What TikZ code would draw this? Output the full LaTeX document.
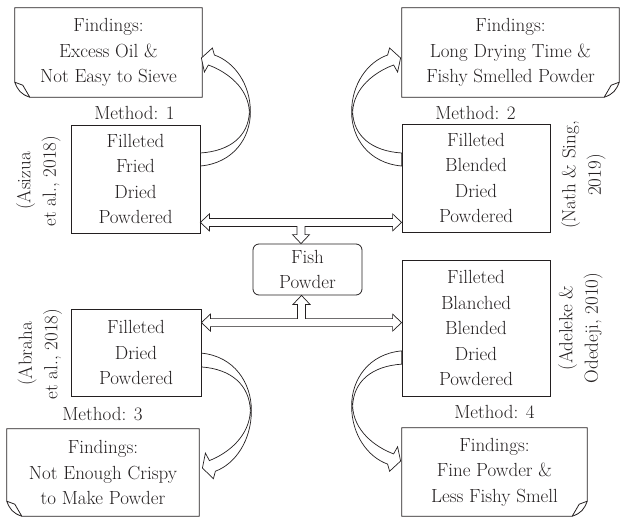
\documentclass[tikz,border=0pt]{standalone}
\usepackage{fontspec}
\usetikzlibrary{calc}

\tikzset{
  stepbox/.style={draw=ink,line width=0.8pt,align=center,inner sep=0pt},
  notetext/.style={align=center,inner sep=0pt},
  outline/.style={draw=ink,line width=0.8pt,line join=miter},
  hollow/.style={draw=ink,line width=0.7pt,fill=white,line join=miter},
  citetext/.style={align=center,inner sep=0pt,rotate=90},
}

% note outline, fold at the lower left / lower right corner
\newcommand{\notefoldleft}[1]{%
  \draw[outline] ($(#1.south west)+(0,-15)$) -- (#1.north west) -- (#1.north east)
    -- (#1.south east) -- ($(#1.south west)+(15,0)$)
    .. controls ($(#1.south west)+(6,-3)$) and ($(#1.south west)+(3,-7)$) .. cycle;
  \draw[outline] ($(#1.south west)+(0,-15)$) -- ($(#1.south west)+(8,-12)$)
    -- ($(#1.south west)+(15,0)$);}
\newcommand{\notefoldright}[1]{%
  \draw[outline] ($(#1.south east)+(0,-15)$) -- (#1.north east) -- (#1.north west)
    -- (#1.south west) -- ($(#1.south east)+(-15,0)$)
    .. controls ($(#1.south east)+(-6,-3)$) and ($(#1.south east)+(-3,-7)$) .. cycle;
  \draw[outline] ($(#1.south east)+(0,-15)$) -- ($(#1.south east)+(-8,-12)$)
    -- ($(#1.south east)+(-15,0)$);}

% T shaped block arrow: #1 left tip, #2 right tip, #3 node hit by the stem, #4 = 1 down / -1 up
\newcommand{\tarrow}[4]{%
  \coordinate (tmid) at ($(#1)!0.5!(#2)$);
  \coordinate (tstem) at (tmid |- #3);
  \draw[hollow] (#1) -- ++(9,{-8.5*#4}) -- ++(0,{4.5*#4}) -- ($(#2)+(-9,{-4*#4})$)
    -- ++(0,{-4.5*#4}) -- (#2) -- ++(-9,{8.5*#4}) -- ++(0,{-4.5*#4})
    -- ($(tmid)+(4,{4*#4})$) -- ($(tstem)+(4,{-9*#4})$) -- ++(4.5,0) -- (tstem)
    -- ++(-8.5,{-9*#4}) -- ++(4.5,0) -- ($(tmid)+(-4,{4*#4})$)
    -- ($(#1)+(9,{4*#4})$) -- ++(0,{4.5*#4}) -- cycle;}

% curved block arrow from a method box back to its findings
\newcommand{\bendarrow}[3]{%
  \begin{scope}[shift={(#1)},xscale=#2,yscale=#3]
    \draw[hollow] (0,6) .. controls (33,3) and (50,-22) .. (50,-48)
      .. controls (50,-76) and (34,-98) .. (14,-105) -- (12,-112) -- (1,-102)
      -- (4,-88) -- (8,-95) .. controls (27,-88) and (48,-72) .. (49,-48)
      .. controls (48,-24) and (30,-9) .. (0,-7) -- cycle;
  \end{scope}}

\begin{document}
\begin{tikzpicture}[x=1pt,y=-1pt,font=\fontsize{19}{25.5}\selectfont]
  \definecolor{ink}{HTML}{231F20}
  \path[use as bounding box] (0,0) rectangle (624,517);
  % method boxes
  \foreach \i/\x/\y/\w/\h/\txt in {
    1/135.5/179/129/108/{Filleted\\Fried\\Dried\\Powdered},
    2/476/178/148/108/{Filleted\\Blended\\Dried\\Powdered},
    3/136/352.5/130/87/{Filleted\\Dried\\Powdered},
    4/476/328/148/136/{Filleted\\Blanched\\Blended\\Dried\\Powdered}}{
    \node[stepbox,text=ink,minimum width=\w pt,minimum height=\h pt] (m\i) at (\x,\y) {\txt};
  }
  % findings notes
  \foreach \i/\x/\y/\w/\h/\txt in {
    1/108.5/52.5/187/89/{Findings:\\Excess Oil \&\\Not Easy to Sieve},
    2/510.5/52.5/217/89/{Findings:\\Long Drying Time \&\\Fishy Smelled Powder},
    3/103/472.5/192/87/{Findings:\\Not Enough Crispy\\to Make Powder},
    4/494.5/472/185/88/{Findings:\\Fine Powder \&\\Less Fishy Smell}}{
    \node[notetext,text=ink,minimum width=\w pt,minimum height=\h pt] (f\i) at (\x,\y) {\txt};
  }
  \notefoldleft{f1}
  \notefoldright{f2}
  \notefoldleft{f3}
  \notefoldright{f4}
  \node[stepbox,text=ink,rounded corners=6pt,minimum width=109pt,minimum height=51pt]
    (fish) at (307.5,269.5) {Fish\\Powder};
  % method numbers
  \foreach \i/\x/\y in {1/134.5/113,2/475.5/113,3/102.5/414,4/494.5/412}{
    \node[text=ink,inner sep=0pt] (lab\i) at (\x,\y) {Method: \i};
  }
  % references
  \node[citetext,text=ink] (c1) at (38.5,181) {(Asizua\\et al., 2018)};
  \node[citetext,text=ink] (c2) at (583.5,175) {(Nath \& Sing,\\2019)};
  \node[citetext,text=ink] (c3) at (40,354) {(Abraha\\et al., 2018)};
  \node[citetext,text=ink] (c4) at (580.5,328) {(Adeleke \&\\Odedeji, 2010)};
  % arrows
  \coordinate (tl) at ($(m1.south east)+(0,-11)$);
  \coordinate (tr) at (m2.west |- tl);
  \tarrow{tl}{tr}{fish.north}{1}
  \coordinate (bl) at ($(m3.north east)+(0,14)$);
  \coordinate (br) at (m4.west |- bl);
  \tarrow{bl}{br}{fish.south}{-1}
  \bendarrow{$(m1.east)+(0,-19)$}{1}{1}
  \bendarrow{$(m2.west)+(0,-18)$}{-1}{1}
  \bendarrow{$(m3.east)+(0,7)$}{1}{-1.064}
  \bendarrow{$(m4.west)+(0,29)$}{-1}{-1.02}
\end{tikzpicture}
\end{document}
